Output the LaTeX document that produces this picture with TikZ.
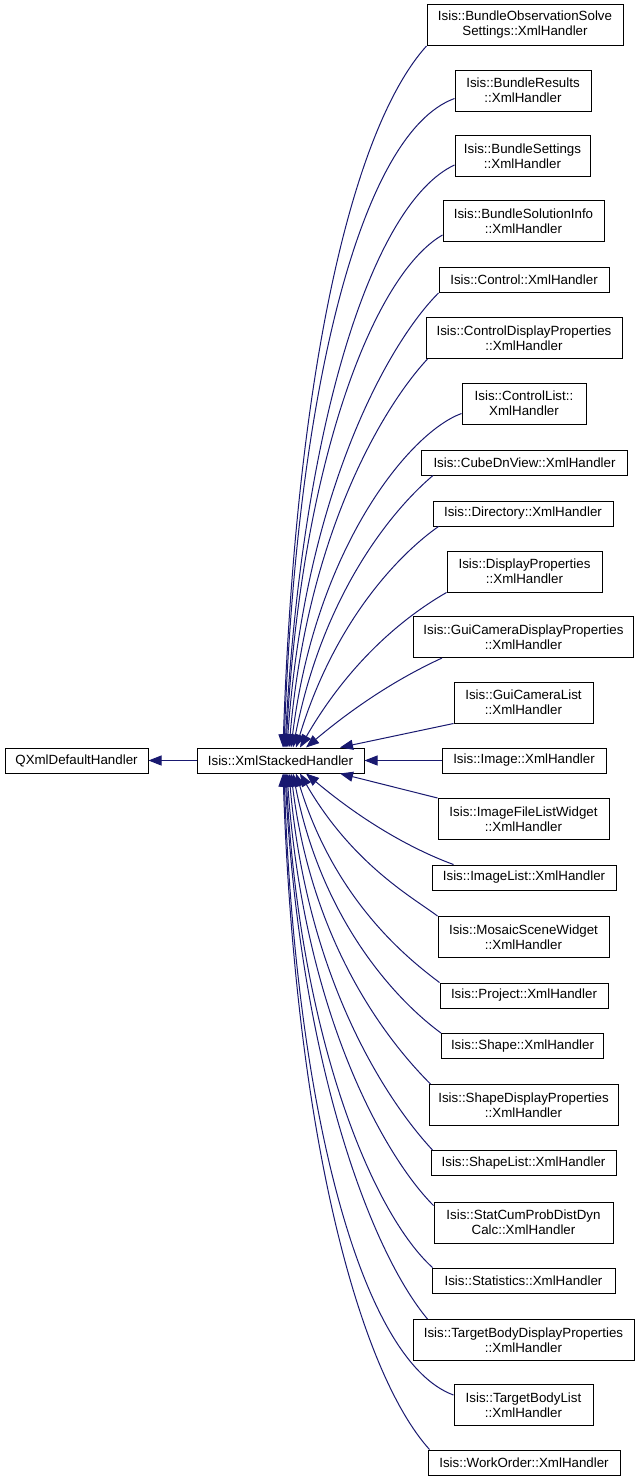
\documentclass[tikz,border=0pt]{standalone}
\usepackage{fontspec}
\setmainfont{Liberation Sans}
\usetikzlibrary{arrows.meta}
\definecolor{edgeblue}{RGB}{25,25,112}
\tikzset{
  cls/.style={draw=black, line width=1pt, fill=white, inner sep=0pt, align=center,
    font=\fontsize{13.33}{15}\selectfont, minimum height=25pt},
  two/.style={minimum height=41pt},
  edge/.style={draw=edgeblue, line width=1pt, -{Triangle[length=13pt,width=10pt]}},
}
\begin{document}
\begin{tikzpicture}[x=1pt,y=1pt]
\useasboundingbox (0,0) rectangle (640,-1483);
\fill[white] (0,0) rectangle (640,-1483);
% base classes
\node[cls, minimum width=143pt] (qx) at (76.5,-760.5) {QXmlDefaultHandler};
\node[cls, minimum width=167pt] (xsh) at (280.5,-760.5) {Isis::XmlStackedHandler};
% derived classes
\node[cls, two, minimum width=196pt] (c1) at (525,-25) {Isis::BundleObservationSolve\\Settings::XmlHandler};
\node[cls, two, minimum width=136pt] (c2) at (523,-90.5) {Isis::BundleResults\\::XmlHandler};
\node[cls, two, minimum width=135pt] (c3) at (522.5,-156) {Isis::BundleSettings\\::XmlHandler};
\node[cls, two, minimum width=161pt] (c4) at (523.5,-221) {Isis::BundleSolutionInfo\\::XmlHandler};
\node[cls, minimum width=170pt] (c5) at (524,-280) {Isis::Control::XmlHandler};
\node[cls, two, minimum width=196pt] (c6) at (524,-338) {Isis::ControlDisplayProperties\\::XmlHandler};
\node[cls, two, minimum width=124pt] (c7) at (524,-403.5) {Isis::ControlList::\\XmlHandler};
\node[cls, minimum width=206pt] (c8) at (524.5,-462.5) {Isis::CubeDnView::XmlHandler};
\node[cls, minimum width=180pt] (c9) at (523,-513.5) {Isis::Directory::XmlHandler};
\node[cls, two, minimum width=155pt] (c10) at (524.5,-571.5) {Isis::DisplayProperties\\::XmlHandler};
\node[cls, two, minimum width=220pt] (c11) at (523.5,-637) {Isis::GuiCameraDisplayProperties\\::XmlHandler};
\node[cls, two, minimum width=139pt] (c12) at (523.5,-702.5) {Isis::GuiCameraList\\::XmlHandler};
\node[cls, minimum width=164pt] (c13) at (524,-760.5) {Isis::Image::XmlHandler};
\node[cls, two, minimum width=171pt] (c14) at (523.5,-819) {Isis::ImageFileListWidget\\::XmlHandler};
\node[cls, minimum width=184pt] (c15) at (524,-877.5) {Isis::ImageList::XmlHandler};
\node[cls, two, minimum width=171pt] (c16) at (523.5,-937) {Isis::MosaicSceneWidget\\::XmlHandler};
\node[cls, minimum width=168pt] (c17) at (524,-995.5) {Isis::Project::XmlHandler};
\node[cls, minimum width=162pt] (c18) at (522.5,-1046) {Isis::Shape::XmlHandler};
\node[cls, two, minimum width=189pt] (c19) at (523.5,-1105) {Isis::ShapeDisplayProperties\\::XmlHandler};
\node[cls, minimum width=185pt] (c20) at (523.5,-1163) {Isis::ShapeList::XmlHandler};
\node[cls, two, minimum width=179pt] (c21) at (523.5,-1222.5) {Isis::StatCumProbDistDyn\\Calc::XmlHandler};
\node[cls, minimum width=183pt] (c22) at (523.5,-1280.5) {Isis::Statistics::XmlHandler};
\node[cls, two, minimum width=221pt] (c23) at (523.5,-1340) {Isis::TargetBodyDisplayProperties\\::XmlHandler};
\node[cls, two, minimum width=139pt] (c24) at (523.5,-1405) {Isis::TargetBodyList\\::XmlHandler};
\node[cls, minimum width=192pt] (c25) at (524,-1462.5) {Isis::WorkOrder::XmlHandler};
% inheritance edges
\draw[edge] (xsh.west) -- (qx.east);
\draw[edge] (c1.south west) to[out=228,in=88,out distance=110pt,in distance=380pt] ([xshift=2.5pt]xsh.north);
\draw[edge] ([yshift=-8pt]c2.west) to[out=200,in=88,out distance=100pt,in distance=356pt] ([xshift=3.5pt]xsh.north);
\draw[edge] ([yshift=-9pt]c3.west) to[out=205,in=87,out distance=91pt,in distance=322pt] ([xshift=4.5pt]xsh.north);
\draw[edge] ([yshift=-14pt]c4.west) to[out=210,in=87,out distance=80pt,in distance=284pt] ([xshift=5.5pt]xsh.north);
\draw[edge] (c5.south west) to[out=225,in=86,out distance=72pt,in distance=254pt] ([xshift=6.5pt]xsh.north);
\draw[edge] ([xshift=2pt]c6.south west) to[out=227,in=85,out distance=62pt,in distance=219pt] ([xshift=8.5pt]xsh.north);
\draw[edge] ([yshift=-10pt]c7.west) to[out=200,in=83,out distance=56pt,in distance=200pt] ([xshift=10.5pt]xsh.north);
\draw[edge] ([xshift=12pt]c8.south west) to[out=220,in=79,out distance=46pt,in distance=163pt] ([xshift=12.5pt]xsh.north);
\draw[edge] ([xshift=6pt]c9.south west) to[out=215,in=73,out distance=40pt,in distance=140pt] ([xshift=15.5pt]xsh.north);
\draw[edge] (c10.south west) to[out=210,in=60,out distance=32pt,in distance=113pt] ([xshift=19.5pt]xsh.north);
\draw[edge] ([xshift=29pt]c11.south west) to[out=205,in=40,out distance=25pt,in distance=87pt] ([xshift=25.5pt]xsh.north);
\draw[edge] (c12.south west) -- ([xshift=59.5pt]xsh.north);
\draw[edge] (c13.west) -- (xsh.east);
\draw[edge] (c14.north west) -- ([xshift=59.5pt]xsh.south);
\draw[edge] ([xshift=22pt]c15.north west) to[out=160,in=-40,out distance=26pt,in distance=92pt] ([xshift=25.5pt]xsh.south);
\draw[edge] (c16.north west) to[out=143,in=-60,out distance=30pt,in distance=105pt] ([xshift=19.5pt]xsh.south);
\draw[edge] (c17.north west) to[out=143,in=-73,out distance=38pt,in distance=134pt] ([xshift=15.5pt]xsh.south);
\draw[edge] (c18.north west) to[out=144,in=-79,out distance=45pt,in distance=158pt] ([xshift=12.5pt]xsh.south);
\draw[edge] ([xshift=2pt]c19.north west) to[out=135,in=-83,out distance=51pt,in distance=180pt] ([xshift=10.5pt]xsh.south);
\draw[edge] ([xshift=2pt]c20.north west) to[out=133,in=-85,out distance=60pt,in distance=214pt] ([xshift=8.5pt]xsh.south);
\draw[edge] ([yshift=-4pt]c21.north west) to[out=135,in=-86,out distance=68pt,in distance=242pt] ([xshift=6.5pt]xsh.south);
\draw[edge] ([xshift=1pt]c22.north west) to[out=138,in=-87,out distance=77pt,in distance=272pt] ([xshift=5.5pt]xsh.south);
\draw[edge] ([xshift=15pt]c23.north west) to[out=130,in=-87,out distance=84pt,in distance=298pt] ([xshift=4.5pt]xsh.south);
\draw[edge] ([yshift=10pt]c24.west) to[out=160,in=-88,out distance=97pt,in distance=342pt] ([xshift=3.5pt]xsh.south);
\draw[edge] ([xshift=2pt]c25.north west) to[out=132,in=-88,out distance=104pt,in distance=367pt] ([xshift=2.5pt]xsh.south);
\end{tikzpicture}
\end{document}
